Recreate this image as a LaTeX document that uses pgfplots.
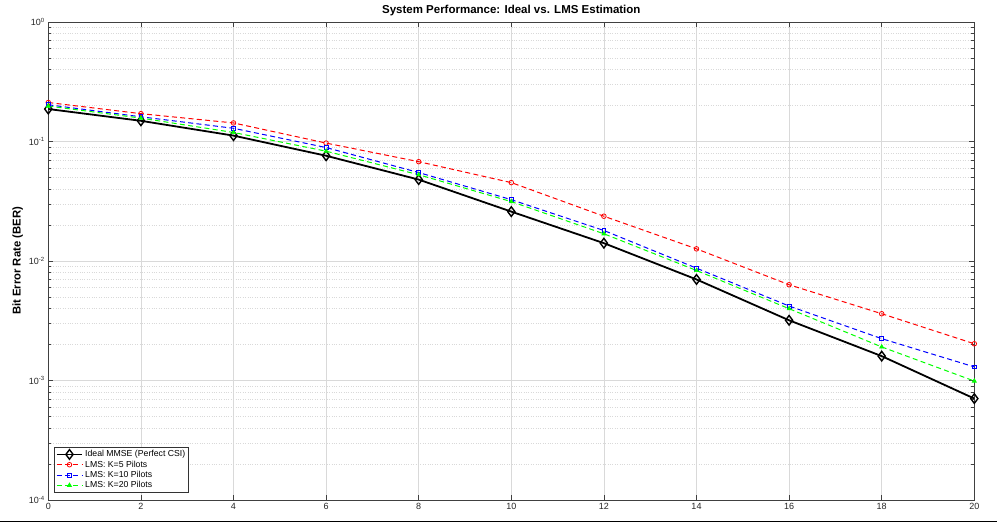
\documentclass[border=0pt]{standalone}
\usepackage{fontspec}
\setmainfont{Liberation Sans}
\usepackage{pgfplots}
\pgfplotsset{compat=1.18}
\begin{document}
\begin{tikzpicture}
\path[use as bounding box] (0,0) rectangle (997pt,522pt);
\begin{axis}[
  at={(48.3pt,22pt)}, anchor=south west,
  scale only axis, width=926pt, height=478pt,
  ymode=log, xmin=0, xmax=20, ymin=1e-4, ymax=1,
  xtick={0,2,...,20},
  ytick={1e-4,1e-3,1e-2,1e-1,1},
  yticklabels={10\textsuperscript{-4},10\textsuperscript{-3},10\textsuperscript{-2},10\textsuperscript{-1},10\textsuperscript{0}},
  /pgf/number format/assume math mode=true,
  tick label style={font=\fontsize{9}{10}\selectfont, color=black!85},
  tick align=inside, tick pos=both,
  major tick length=5pt, minor tick length=3pt,
  every tick/.style={color=black!75, line width=0.6pt},
  axis line style={color=black!75, line width=0.6pt},
  grid=both,
  xminorgrids=false,
  major grid style={color=black!15, line width=0.5pt},
  minor grid style={color=black!15, dotted, line width=0.5pt},
  title={\bfseries System Performance: Ideal vs. LMS Estimation},
  title style={font=\fontsize{11.5}{13}\selectfont, yshift=-3.5pt},
  ylabel={\bfseries Bit Error Rate (BER)},
  ylabel style={font=\fontsize{11.3}{12}\selectfont, yshift=-1pt},
  legend style={at={(0.0065,0.0153)}, anchor=south west, font=\fontsize{8.7}{10}\selectfont,
    draw=black!80, line width=0.5pt, fill=white, inner sep=1.2pt, row sep=-1.5pt,
    cells={anchor=west}},
  legend image code/.code={\draw[mark repeat=2,mark phase=2] plot coordinates {(0cm,0cm) (0.45cm,0cm) (0.9cm,0cm)};},
]
\addplot[black, line width=1.8pt, mark=diamond, mark size=4.8pt, mark options={solid, line width=1.4pt, fill=none}] coordinates {
(0,0.187) (2,0.149) (4,0.112) (6,0.076) (8,0.048) (10,0.0259) (12,0.0141) (14,0.00701) (16,0.00319) (18,0.00160) (20,0.000706)};
\addlegendentry{Ideal MMSE (Perfect CSI)}
\addplot[red, line width=1pt, dash pattern=on 5pt off 3.3pt, mark=o, mark size=2.3pt, mark options={solid, line width=0.8pt}] coordinates {
(0,0.212) (2,0.171) (4,0.143) (6,0.097) (8,0.0678) (10,0.0453) (12,0.0237) (14,0.01264) (16,0.00633) (18,0.00362) (20,0.00203)};
\addlegendentry{LMS: K=5 Pilots}
\addplot[blue, line width=1pt, dash pattern=on 5pt off 3.3pt, mark=square, mark size=1.9pt, mark options={solid, draw=blue, line width=0.8pt}] coordinates {
(0,0.203) (2,0.161) (4,0.129) (6,0.089) (8,0.055) (10,0.0326) (12,0.0180) (14,0.00871) (16,0.00420) (18,0.00224) (20,0.00130)};
\addlegendentry{LMS: K=10 Pilots}
\addplot[green, line width=1pt, dash pattern=on 5pt off 3.3pt, mark=triangle*, mark size=2.4pt, mark options={solid, line width=0.6pt}] coordinates {
(0,0.198) (2,0.157) (4,0.119) (6,0.083) (8,0.0527) (10,0.0314) (12,0.0169) (14,0.00833) (16,0.00399) (18,0.00191) (20,0.00099)};
\addlegendentry{LMS: K=20 Pilots}
\end{axis}
\draw[black, line width=1pt] (0,0.5pt) -- (997pt,0.5pt);
\end{tikzpicture}
\end{document}
